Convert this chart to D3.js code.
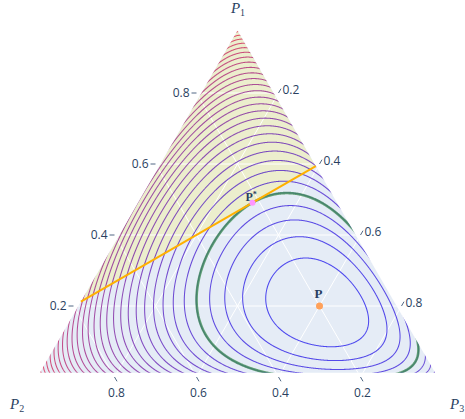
<!DOCTYPE html>
<html><head><meta charset="utf-8">
<script src="https://cdn.jsdelivr.net/npm/d3@7"></script>
<style>body{margin:0;background:#fff}svg{display:block}</style>
</head><body>
<svg id="c" width="465" height="419"></svg>
<script>
// ---------------- data ----------------
const axisNames = ["1", "2", "3"];                 // P1 (top), P2 (bottom-left), P3 (bottom-right)
const tickValues = [0.2, 0.4, 0.6, 0.8];
const tickLabels = ["0.2", "0.4", "0.6", "0.8"];
const pointP = [0.2, 0.2, 0.6];                   // distribution P
const pointPStar = [0.491, 0.218, 0.291];         // projection P*
const constraintStart = [0.212, 0.776, 0.012];    // line P1 - P3 = 0.2 (left end)
const constraintEnd = [0.594, 0.012, 0.394];      // (right end)
const contourLevels = [0.05, 0.10, 0.15, 0.20, 0.25, 0.30, 0.35, 0.40, 0.45, 0.50,
  0.55, 0.60, 0.65, 0.70, 0.75, 0.80, 0.85, 0.90, 0.95, 1.00,
  1.05, 1.10, 1.15, 1.20, 1.25, 1.30, 1.35, 1.40, 1.45];
const tangentLevel = 0.249;
const gridMargin = 0.012;

// ---------------- scales ----------------
const svg = d3.select("#c");
const yScale = d3.scaleLinear().domain([0, 1]).range([377, 22]);      // P1
const xScale = d3.scaleLinear().domain([0, 1]).range([32.5, 442.5]);  // P3 + P1/2
const proj = q => { const s = q[0] + q[1] + q[2]; const a = q[0] / s, c = q[2] / s; return [xScale(c + a / 2), yScale(a)]; };
const unproj = (x, y) => { const a = yScale.invert(y); const c = xScale.invert(x) - a / 2; return [a, 1 - a - c, c]; };
const e = gridMargin;
const innerQ = [[1 - 2 * e, e, e], [e, 1 - 2 * e, e], [e, e, 1 - 2 * e]];
const inner = innerQ.map(proj);
const line = d3.line();

svg.append("defs").append("clipPath").attr("id", "tri")
  .append("path").attr("d", line(inner) + "Z");

// background fills
svg.append("path").attr("d", line(inner) + "Z").attr("fill", "#E5ECF6");
svg.append("path").attr("d", line([constraintStart, innerQ[0], constraintEnd].map(proj)) + "Z")
  .attr("fill", "rgb(236,238,205)").attr("clip-path", "url(#tri)");

// grid
const gridG = svg.append("g").attr("clip-path", "url(#tri)");
tickValues.forEach(v => {
  [[[v, 1 - v, 0], [v, 0, 1 - v]], [[1 - v, v, 0], [0, v, 1 - v]], [[1 - v, 0, v], [0, 1 - v, v]]].forEach(seg => {
    gridG.append("path").attr("d", line(seg.map(proj))).attr("stroke", "#fff").attr("stroke-width", 1).attr("fill", "none");
  });
});

// divergence field D(Q||P)
const kl = q => q.reduce((s, v, i) => s + (v > 0 ? v * Math.log(v / pointP[i]) : 0), 0);
const step = 0.5, gx0 = 26, gy0 = 16;
const nx = Math.ceil((450 - gx0) / step), ny = Math.ceil((382 - gy0) / step);
const vals = new Float64Array(nx * ny);
for (let j = 0; j < ny; j++) {
  for (let i = 0; i < nx; i++) {
    let q = unproj(gx0 + (i + 0.5) * step, gy0 + (j + 0.5) * step).map(v => Math.max(v, 1e-4));
    const s = q[0] + q[1] + q[2];
    q = q.map(v => v / s);
    vals[j * nx + i] = kl(q);
  }
}
const geo = d3.geoPath(d3.geoIdentity().scale(step).translate([gx0, gy0]));
const lo = contourLevels[0], hi = contourLevels[contourLevels.length - 1];
const color = d3.interpolateRgb("rgb(20,10,235)", "rgb(225,20,60)");
const contG = svg.append("g").attr("clip-path", "url(#tri)");
contG.selectAll("path.lv").data(d3.contours().size([nx, ny]).thresholds(contourLevels)(vals))
  .join("path").attr("class", "lv").attr("d", geo)
  .attr("fill", "none").attr("stroke", d => color((d.value - lo) / (hi - lo)))
  .attr("stroke-opacity", 0.72).attr("stroke-width", 1.05);
contG.selectAll("path.tg").data(d3.contours().size([nx, ny]).thresholds([tangentLevel])(vals))
  .join("path").attr("class", "tg").attr("d", geo)
  .attr("fill", "none").attr("stroke", "#3d8c52").attr("stroke-opacity", 0.8).attr("stroke-width", 2.6);

// constraint line
svg.append("path").attr("d", line([constraintStart, constraintEnd].map(proj)))
  .attr("stroke", "#FFB000").attr("stroke-width", 2).attr("fill", "none");

// points
const [psx, psy] = proj(pointPStar);
svg.append("circle").attr("cx", psx).attr("cy", psy).attr("r", 3).attr("fill", "#FF97FF");
const [px, py] = proj(pointP);
svg.append("circle").attr("cx", px).attr("cy", py).attr("r", 3.5).attr("fill", "#FFA15A");
svg.append("text").attr("x", px - 1).attr("y", py - 8).attr("text-anchor", "middle")
  .attr("font-family", "Liberation Serif, DejaVu Serif, serif").attr("font-weight", "bold")
  .attr("font-size", 13).attr("fill", "#2a3f5f").text("P");
const ts = svg.append("text").attr("x", psx - 7).attr("y", psy - 2).attr("text-anchor", "start")
  .attr("font-family", "Liberation Serif, DejaVu Serif, serif").attr("font-weight", "bold")
  .attr("font-size", 12).attr("fill", "#2a3f5f");
ts.append("tspan").text("P");
ts.append("tspan").attr("dy", -4).attr("font-size", 8).text("*");

// ticks & labels
const tickFont = "Open Sans, Liberation Sans, sans-serif";
const tg = svg.append("g").attr("font-family", tickFont).attr("font-size", 12).attr("fill", "#2a3f5f");
tickValues.forEach((v, k) => {
  // P1 axis (left)
  const [lx, ly] = proj([v, 1 - v, 0]);
  tg.append("path").attr("d", line([[lx - 5, ly], [lx, ly]])).attr("stroke", "#506784");
  tg.append("text").attr("x", lx - 7).attr("y", ly).attr("dy", "0.35em").attr("text-anchor", "end").text(tickLabels[k]);
  // P2 axis (bottom)
  const [bx, by] = proj([0, v, 1 - v]);
  tg.append("path").attr("d", line([[bx, by], [bx + 2.5, by + 4.3]])).attr("stroke", "#506784");
  tg.append("text").attr("x", bx + 2).attr("y", by + 20).attr("text-anchor", "middle").text(tickLabels[k]);
  // P3 axis (right)
  const [rx, ry] = proj([1 - v, 0, v]);
  tg.append("path").attr("d", line([[rx, ry], [rx + 2.5, ry - 4.3]])).attr("stroke", "#506784");
  tg.append("text").attr("x", rx + 4).attr("y", ry - 3).attr("dy", "0.35em").attr("text-anchor", "start").text(tickLabels[k]);
});

// axis titles
const titlePos = [[238, 13, "middle"], [10, 409, "start"], [450, 409, "start"]];
axisNames.forEach((n, i) => {
  const t = svg.append("text").attr("x", titlePos[i][0]).attr("y", titlePos[i][1]).attr("text-anchor", titlePos[i][2])
    .attr("font-family", "Liberation Serif, DejaVu Serif, serif").attr("font-size", 15).attr("fill", "#2a3f5f");
  t.append("tspan").attr("font-style", "italic").text("P");
  t.append("tspan").attr("dy", 3).attr("font-size", 10).text(n);
});
</script>
</body></html>
